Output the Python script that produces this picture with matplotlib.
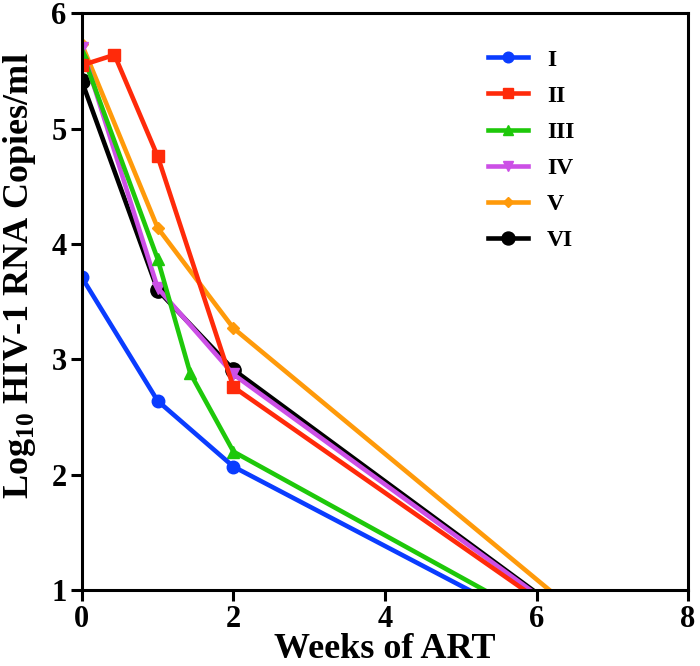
import matplotlib.pyplot as plt

plt.rcParams['font.family'] = ['Liberation Serif', 'DejaVu Serif']
plt.rcParams['mathtext.fontset'] = 'custom'
plt.rcParams['mathtext.rm'] = 'Liberation Serif:bold'
plt.rcParams['mathtext.bf'] = 'Liberation Serif:bold'

# Weeks of ART and log10 viral load per patient group
weeks_I = [0, 1, 2, 5.11]
load_I = [3.71, 2.64, 2.07, 1.0]
weeks_II = [0, 0.43, 1, 2, 5.84]
load_II = [5.55, 5.64, 4.76, 2.76, 1.0]
weeks_III = [0, 1, 1.43, 2, 5.31]
load_III = [5.66, 3.87, 2.88, 2.20, 1.0]
weeks_IV = [0, 1, 2, 5.92]
load_IV = [5.70, 3.62, 2.87, 1.0]
weeks_V = [0, 1, 2, 6.17]
load_V = [5.73, 4.14, 3.27, 1.0]
weeks_VI = [0, 1, 2, 5.95]
load_VI = [5.41, 3.60, 2.91, 1.0]

series = [
    ('I', weeks_I, load_I, '#0a3cff', 'o', 9),
    ('II', weeks_II, load_II, '#ff2a0a', 's', 9),
    ('III', weeks_III, load_III, '#1ec80a', '^', 9),
    ('IV', weeks_IV, load_IV, '#cc4fe6', 'v', 9),
    ('V', weeks_V, load_V, '#ff9a0a', 'D', 6),
    ('VI', weeks_VI, load_VI, 'black', 'o', 11),
]

fig = plt.figure(figsize=(7, 6.66), dpi=100)
ax = fig.add_axes([0.117, 0.114, 0.866, 0.866])

lw = 3.3
n = len(series)
for i, (name, wk, ld, col, mk, ms) in enumerate(series):
    z = 2 + (n - i)  # first group drawn on top
    # measured points with markers; last segment (to detection limit) without
    ax.plot(wk[:-1], ld[:-1], color=col, marker=mk, markersize=ms, lw=lw,
            label=name, zorder=z)
    ax.plot(wk[-2:], ld[-2:], color=col, lw=lw, zorder=z - 0.5)

ax.set_xlim(0, 8)
ax.set_ylim(1, 6)
ax.set_xticks([0, 2, 4, 6, 8])
ax.set_yticks([1, 2, 3, 4, 5, 6])
for s in ax.spines.values():
    s.set_linewidth(2.2)
    s.set_zorder(20)
ax.tick_params(direction='out', length=8, width=2.2, labelsize=22, pad=3)
for lab in ax.get_xticklabels() + ax.get_yticklabels():
    lab.set_fontweight('bold')

ax.set_xlabel('Weeks of ART', fontsize=26, fontweight='bold', labelpad=-1)
ax.set_ylabel(r'Log$_{\mathbf{10}}$ HIV-1 RNA Copies/ml', fontsize=26,
              fontweight='bold')
ax.yaxis.set_label_coords(-0.073, 0.545)

ax.legend(loc='upper left', bbox_to_anchor=(0.635, 0.975), frameon=False,
          prop={'weight': 'bold', 'size': 17}, handlelength=1.7,
          labelspacing=0.62, handletextpad=0.8, markerscale=0.85)

plt.savefig('out.png', dpi=100)
